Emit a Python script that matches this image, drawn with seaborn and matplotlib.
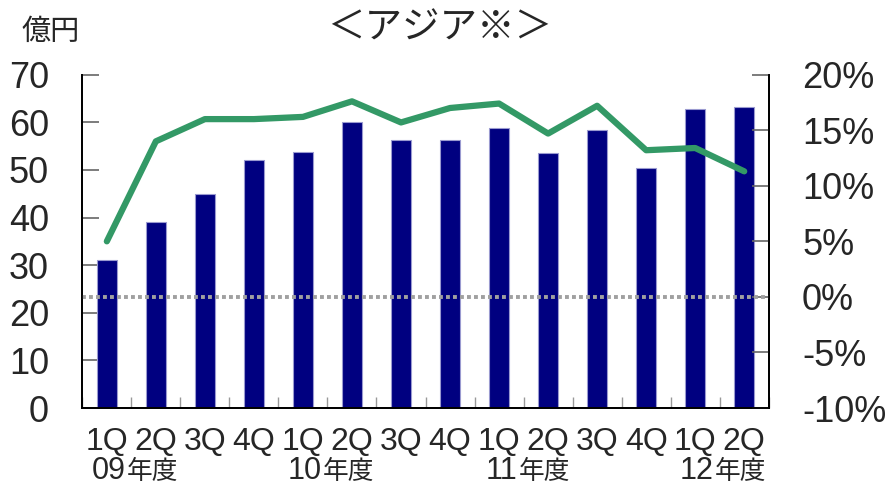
import numpy as np
import pandas as pd
import matplotlib
matplotlib.use("Agg")
import matplotlib.pyplot as plt
import matplotlib.transforms as mtransforms
import seaborn as sns

quarters = ["1Q", "2Q", "3Q", "4Q", "1Q", "2Q", "3Q", "4Q", "1Q", "2Q", "3Q", "4Q", "1Q", "2Q"]
years = ["09", "09", "09", "09", "10", "10", "10", "10", "11", "11", "11", "11", "12", "12"]
sales = [31.0, 39.0, 45.0, 52.1, 53.7, 60.0, 56.2, 56.2, 58.7, 53.5, 58.3, 50.5, 62.7, 63.3]   # 億円
margin = [5.0, 14.0, 16.0, 16.0, 16.2, 17.6, 15.7, 17.0, 17.4, 14.7, 17.2, 13.2, 13.4, 11.3]  # %
year_labels = ["09", "10", "11", "12"]
year_start = [0, 4, 8, 12]

df = pd.DataFrame({"period": [y + "-" + q for y, q in zip(years, quarters)],
                   "pos": np.arange(len(quarters)),
                   "sales": sales,
                   "margin": margin})

sns.set_style("white")
plt.rcParams['font.family'] = ['Liberation Sans', 'Noto Sans CJK JP', 'DejaVu Sans']

fig = plt.figure(figsize=(8.88, 4.88), dpi=100)
ax = fig.add_axes([0.0927, 0.1639, 0.773, 0.6831])

sns.barplot(data=df, x="period", y="sales", ax=ax, color="#000080", width=0.4,
            edgecolor="#9a9ad0", linewidth=0.8, saturation=1)
ax.set_xlim(-0.5, len(quarters) - 0.5)
ax.set_ylim(0, 70)
ax.set_yticks(np.arange(0, 71, 10))
ax.set_xlabel("")
ax.set_ylabel("")

ax2 = ax.twinx()
ax2.axhline(0, color="#a0a0a0", linestyle=(0, (1, 0.8)), linewidth=2.8, zorder=1)
sns.lineplot(data=df, x="pos", y="margin", ax=ax2, color="#339966", linewidth=4.5,
             solid_capstyle="round", zorder=3)
ax2.set_ylim(-10, 20)
ax2.set_yticks(np.arange(-10, 21, 5))
ax2.set_yticklabels([f"{v}%" for v in range(-10, 21, 5)])
ax2.set_xlim(-0.5, len(quarters) - 0.5)
ax2.set_xlabel("")
ax2.set_ylabel("")

for a in (ax, ax2):
    for s in a.spines.values():
        s.set_color("black")
        s.set_linewidth(1.3)
    a.spines["top"].set_visible(False)

ax.set_xticks(np.arange(len(quarters)))
ax.set_xticklabels(quarters)
ax.set_xticks(np.arange(-0.5, len(quarters), 1), minor=True)
ax.tick_params(axis="x", which="major", length=0, pad=14, labelsize=23)
ax.tick_params(axis="x", which="minor", direction="in", length=8, color="#999999", width=1, bottom=True)
ax.tick_params(axis="y", direction="in", length=12, color="#666666", width=1.2, pad=24, labelsize=26, left=True)
ax2.tick_params(axis="y", direction="in", length=12, color="#666666", width=1.2, pad=24, labelsize=26, right=True)

# year labels under the quarter labels
trans = mtransforms.blended_transform_factory(ax.transData, ax.transAxes)
for lab, st in zip(year_labels, year_start):
    ax.text(st + 0.38, -0.212, lab, transform=trans, ha="right", va="baseline",
            fontsize=22, family="Liberation Sans")
    ax.text(st + 0.40, -0.212, "年度", transform=trans, ha="left", va="baseline",
            fontsize=18.5, family="Noto Sans CJK JP")

fig.text(0.495, 0.943, "＜アジア※＞", ha="center", va="center", fontsize=27,
         family="Noto Sans CJK JP")
fig.text(0.057, 0.935, "億円", ha="center", va="center", fontsize=21,
         family="Noto Sans CJK JP")

fig.savefig("out.png", dpi=100)
